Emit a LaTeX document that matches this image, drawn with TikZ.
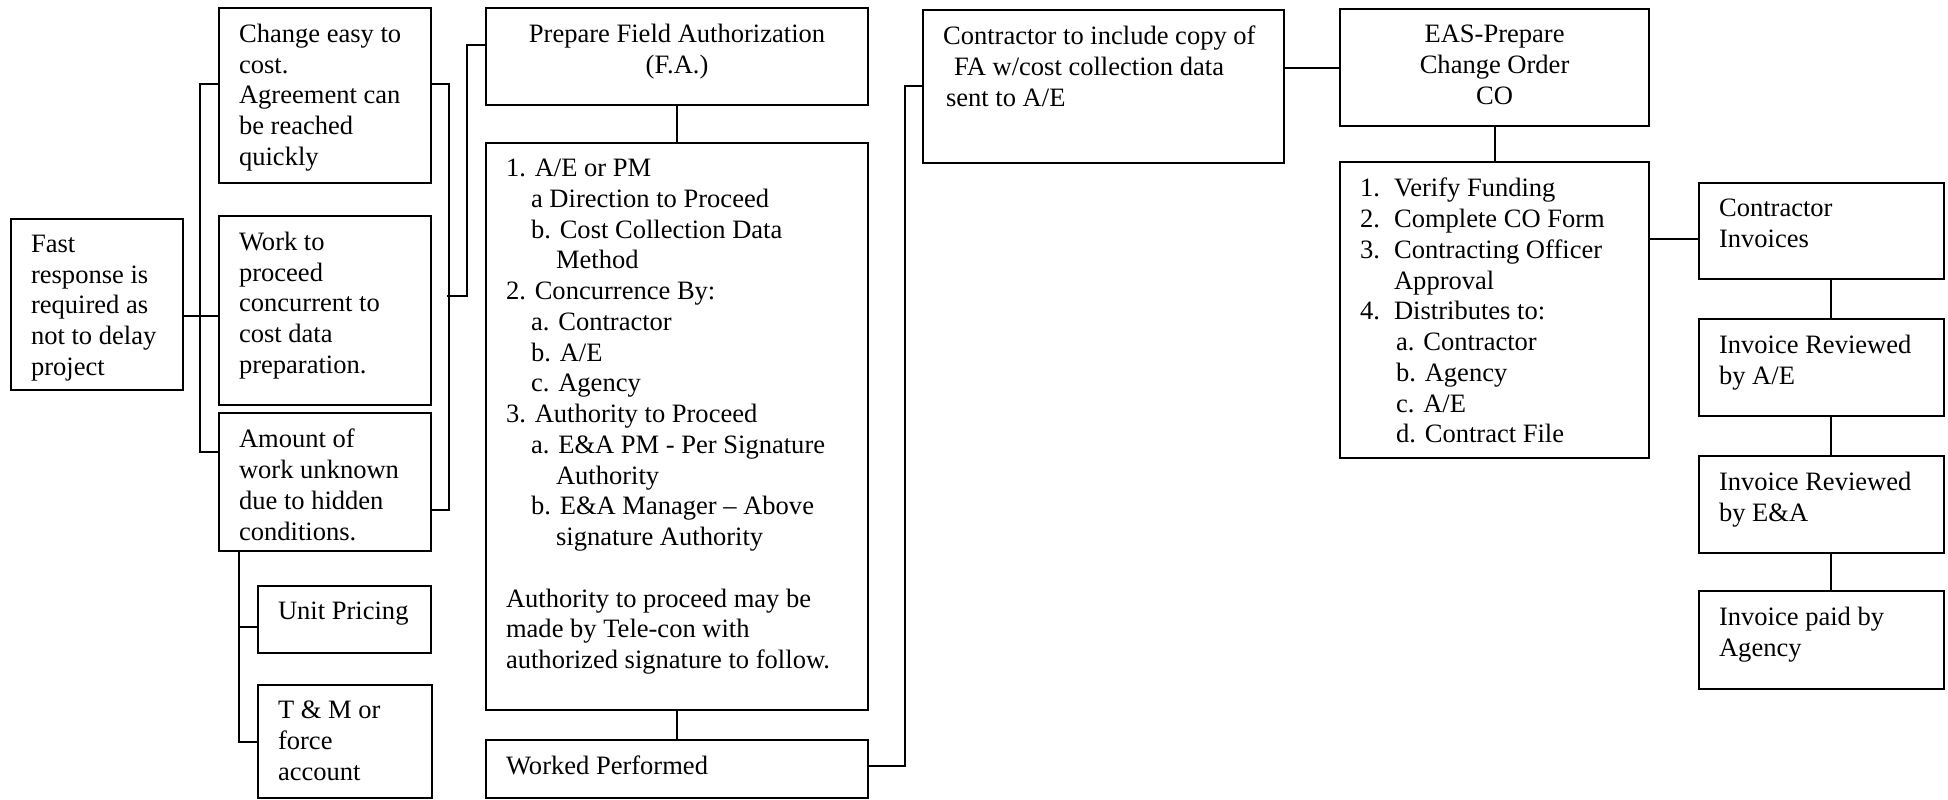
\documentclass[tikz,border=0pt]{standalone}
\usepackage{fontspec}
\setmainfont{Liberation Serif}
\usetikzlibrary{calc}
\usetikzlibrary{positioning}

\newlength\px
\setlength\px{0.2mm}
\newcommand{\boxtext}[3]{\parbox[c][#2\px][t]{#1\px}{\vspace*{16\px}\raggedright\leftskip=20\px #3}}
\newcommand{\boxmid}[3]{\parbox[c][#2\px][t]{#1\px}{\vspace*{16\px}\centering #3}}
\newcommand{\ind}[1]{\hspace*{#1\px}}

\begin{document}
\begin{tikzpicture}[x=0.2mm, y=-0.2mm, line width=1.2pt,
  box/.style={draw, inner sep=0pt, anchor=north west,
              font=\fontsize{15.1}{17.5}\selectfont}]
 \useasboundingbox (0,0) rectangle (1948,799);

 \node[box] (fast) at (10,218)  {\boxtext{172}{171}{Fast\\response is\\required as\\not to delay\\project}};
 \node[box] (chg)  at (218,7)   {\boxtext{212}{175}{Change easy to\\cost.\\Agreement can\\be reached\\quickly}};
 \node[box] (work) at (218,215) {\boxtext{212}{189}{Work to\\proceed\\concurrent to\\cost data\\preparation.}};
 \node[box] (amt)  at (218,412) {\boxtext{212}{138}{Amount of\\work unknown\\due to hidden\\conditions.}};
 \node[box] (unit) at (257,585) {\boxtext{173}{67}{Unit Pricing}};
 \node[box] (tm)   at (257,684) {\boxtext{174}{113}{T \& M or\\force\\account}};

 \node[box] (prep)   at (485,7)   {\boxmid{382}{97}{Prepare Field Authorization\\(F.A.)}};
 \node[box] (falist) at (485,142) {\boxtext{382}{567}{1. A/E or PM\\
   \ind{25}a Direction to Proceed\\
   \ind{25}b. Cost Collection Data\\
   \ind{50}Method\\
   2. Concurrence By:\\
   \ind{25}a. Contractor\\
   \ind{25}b. A/E\\
   \ind{25}c. Agency\\
   3. Authority to Proceed\\
   \ind{25}a. E\&A PM - Per Signature\\
   \ind{50}Authority\\
   \ind{25}b. E\&A Manager – Above\\
   \ind{50}signature Authority\\[17.5pt]
   Authority to proceed may be\\
   made by Tele-con with\\
   authorized signature to follow.}};
 \node[box] (worked) at (485,739) {\boxtext{382}{58}{Worked Performed}};

 \node[box] (contr) at (922,9) {\boxtext{361}{153}{Contractor to include copy of\\
   \ind{11}FA w/cost collection data\\\ind{3}sent to A/E}};

 \node[box] (eas)    at (1339,8)   {\boxmid{309}{117}{EAS-Prepare\\Change Order\\CO}};
 \node[box] (colist) at (1339,161) {\boxtext{309}{296}{%
   \makebox[34\px][l]{1.}Verify Funding\\
   \makebox[34\px][l]{2.}Complete CO Form\\
   \makebox[34\px][l]{3.}Contracting Officer\\
   \ind{34}Approval\\
   \makebox[34\px][l]{4.}Distributes to:\\
   \ind{36}a. Contractor\\
   \ind{36}b. Agency\\
   \ind{36}c. A/E\\
   \ind{36}d. Contract File}};

 \node[box] (inv)   at (1698,182) {\boxtext{245}{96}{Contractor\\Invoices}};
 \node[box] (revae) at (1698,318) {\boxtext{245}{97}{Invoice Reviewed\\by A/E}};
 \node[box] (revea) at (1698,455) {\boxtext{245}{97}{Invoice Reviewed\\by E\&A}};
 \node[box] (paid)  at (1698,590) {\boxtext{245}{98}{Invoice paid by\\Agency}};

 \coordinate (fork) at (447,296);

 \draw ($(chg.north west)+(0,77)$) -- ++(-18,0) |- ($(amt.north west)+(0,40)$);
 \draw ($(fast.north east)+(0,98)$) -- ($(work.north west)+(0,101)$);
 \draw ($(chg.north east)+(0,77)$) -- ++(17,0) |- ($(amt.north east)+(0,98)$);
 \draw (fork) -- ++(20,0) |- ($(prep.north west)+(0,38)$);
 \draw ($(amt.south west)+(21,0)$) |- ($(unit.north west)+(0,42)$);
 \draw ($(amt.south west)+(21,0)$) |- ($(tm.north west)+(0,58)$);
 \draw (prep.south) -- (falist.north);
 \draw (falist.south) -- (worked.north);
 \draw ($(worked.north east)+(0,27)$) -- ++(36,0) |- ($(contr.north west)+(0,77)$);
 \draw ($(contr.north east)+(0,59)$) -- ($(eas.north west)+(0,60)$);
 \draw (eas.south) -- (colist.north);
 \draw ($(colist.north east)+(0,78)$) -- ($(inv.north west)+(0,57)$);
 \foreach \a/\b in {inv/revae, revae/revea, revea/paid}
   \draw ($(\a.south)+(9,0)$) -- ($(\b.north)+(9,0)$);
\end{tikzpicture}
\end{document}
